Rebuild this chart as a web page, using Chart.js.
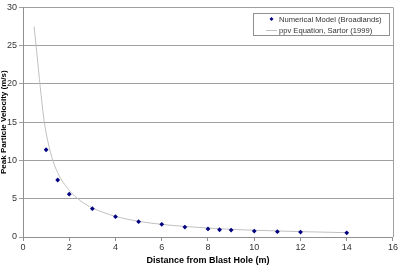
<!DOCTYPE html>
<html>
<head>
<meta charset="utf-8">
<script src="https://cdn.jsdelivr.net/npm/chart.js@4/dist/chart.umd.min.js"></script>
<style>
    html, body { margin: 0; padding: 0; background: #fff; }
    #wrap { width: 399px; height: 266px; position: relative; }
</style>
</head>
<body>
<div id="wrap"><canvas id="ppvChart"></canvas></div>
<script>
// Numerical model points (Broadlands)
const modelDistance = [1, 1.5, 2, 3, 4, 5, 6, 7, 8, 8.5, 9, 10, 11, 12, 14];
const modelPpv = [11.4, 7.45, 5.6, 3.7, 2.65, 2.0, 1.65, 1.3, 1.05, 0.95, 0.9, 0.78, 0.7, 0.65, 0.55];

// ppv equation curve, Sartor (1999)
const eqDistance = [0.48, 0.6, 0.75, 0.9, 1, 1.25, 1.5, 2, 2.5, 3, 4, 5, 6, 7, 8, 9, 10, 12, 14];
const eqPpv = [27.5, 24, 19.5, 15.5, 13.6, 10.4, 8.4, 6.1, 4.7, 3.8, 2.7, 2.05, 1.65, 1.38, 1.17, 1.0, 0.88, 0.7, 0.57];

const xTicks = [0, 2, 4, 6, 8, 10, 12, 14, 16];
const yTicks = [0, 5, 10, 15, 20, 25, 30];

const legendLabels = ['Numerical Model (Broadlands)', 'ppv Equation, Sartor (1999)'];

const FONT = '"Liberation Sans", Arial, sans-serif';

const toPoints = (xs, ys) => xs.map((x, i) => ({x: x, y: ys[i]}));

// plot border on the right + legend box drawn inside the plot area
const boxPlugin = {
    id: 'boxPlugin',
    afterDraw(chart) {
        const ctx = chart.ctx;
        const a = chart.chartArea;
        ctx.save();
        ctx.strokeStyle = '#a0a0a0';
        ctx.lineWidth = 1;
        ctx.beginPath();
        ctx.moveTo(Math.round(a.right) + 0.5, a.top);
        ctx.lineTo(Math.round(a.right) + 0.5, a.bottom);
        ctx.stroke();

        // legend
        const lx = 253.5, ly = 13.5, lw = 136, lh = 22;
        ctx.fillStyle = '#fff';
        ctx.fillRect(lx, ly, lw, lh);
        ctx.strokeStyle = '#909090';
        ctx.strokeRect(lx, ly, lw, lh);

        ctx.fillStyle = '#000080';
        ctx.beginPath();
        ctx.moveTo(271.5, 17);
        ctx.lineTo(273.5, 19);
        ctx.lineTo(271.5, 21);
        ctx.lineTo(269.5, 19);
        ctx.closePath();
        ctx.fill();

        ctx.strokeStyle = '#c0c0c0';
        ctx.beginPath();
        ctx.moveTo(266, 30.5);
        ctx.lineTo(277, 30.5);
        ctx.stroke();

        ctx.fillStyle = '#333';
        ctx.font = '7.6px ' + FONT;
        ctx.textBaseline = 'middle';
        ctx.textAlign = 'left';
        ctx.fillText(legendLabels[0], 279, 19.5);
        ctx.fillText(legendLabels[1], 279, 30.5);
        ctx.restore();
    }
};

const chart = new Chart(document.getElementById('ppvChart'), {
    type: 'scatter',
    data: {
        datasets: [
            {
                label: legendLabels[0],
                data: toPoints(modelDistance, modelPpv),
                showLine: false,
                pointStyle: 'rectRot',
                pointRadius: 2.4,
                backgroundColor: '#000080',
                borderColor: '#000080',
                borderWidth: 0,
                order: 1
            },
            {
                label: legendLabels[1],
                data: toPoints(eqDistance, eqPpv),
                showLine: true,
                pointRadius: 0,
                borderColor: '#c0c0c0',
                borderWidth: 1,
                cubicInterpolationMode: 'monotone',
                order: 2
            }
        ]
    },
    options: {
        responsive: true,
        maintainAspectRatio: false,
        animation: false,
        layout: {
            padding: {top: 6, right: 6, left: 0, bottom: 0}
        },
        plugins: {
            legend: {display: false},
            tooltip: {enabled: false}
        },
        scales: {
            x: {
                type: 'linear',
                min: 0,
                max: 16,
                afterBuildTicks: (scale) => { scale.ticks = xTicks.map(v => ({value: v})); },
                afterFit: (scale) => { scale.height = 29; },
                ticks: {
                    color: '#333',
                    font: {family: FONT, size: 9},
                    padding: 1,
                    maxRotation: 0
                },
                grid: {
                    drawOnChartArea: false,
                    drawTicks: true,
                    tickLength: 4,
                    color: '#909090'
                },
                border: {color: '#909090'},
                title: {
                    display: true,
                    text: 'Distance from Blast Hole (m)',
                    color: '#000',
                    font: {family: FONT, size: 9, weight: 'bold'},
                    padding: {top: 2, bottom: 0}
                }
            },
            y: {
                type: 'linear',
                min: 0,
                max: 30,
                afterBuildTicks: (scale) => { scale.ticks = yTicks.map(v => ({value: v})); },
                afterFit: (scale) => { scale.width = 23; },
                ticks: {
                    color: '#333',
                    font: {family: FONT, size: 9},
                    padding: 2
                },
                grid: {
                    drawTicks: true,
                    tickLength: 4,
                    color: '#a0a0a0'
                },
                border: {color: '#909090'},
                title: {
                    display: true,
                    text: 'Peak Particle Velocity (m/s)',
                    color: '#000',
                    font: {family: FONT, size: 8, weight: 'bold'},
                    padding: {top: -1, bottom: 0}
                }
            }
        }
    },
    plugins: [boxPlugin]
});
</script>
</body>
</html>
